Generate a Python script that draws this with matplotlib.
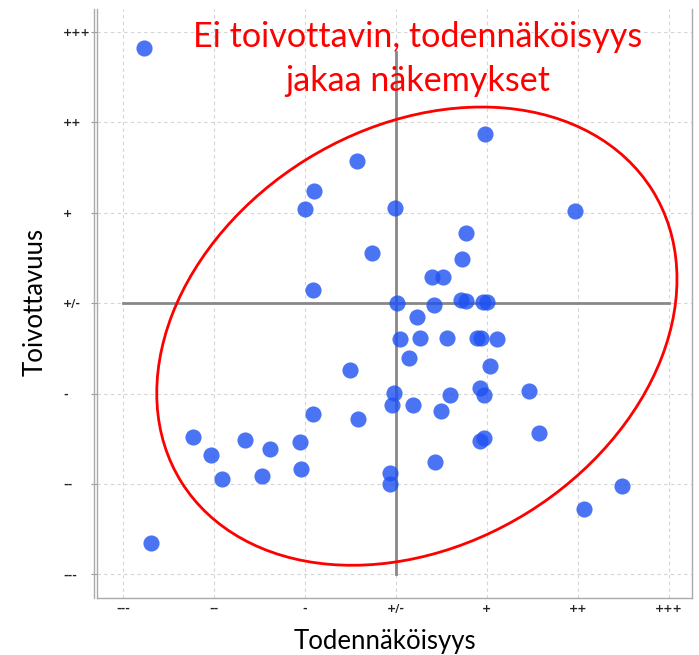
import matplotlib.pyplot as plt
from matplotlib.patches import Ellipse

# values on a -3..+3 scale (--- .. +++)
todennakoisyys = [-2.77, -0.43, 0.98, -0.90, -1.00, -0.01, 1.97, 0.77, -0.26, 0.73,
                  0.40, 0.52, -0.91, 0.01, 0.42, 0.71, 0.77, 0.96, 1.00, 0.23,
                  0.04, 0.26, 0.56, 0.89, 0.93, 1.11, 0.14, 1.03, -0.51, -0.02,
                  -0.04, 0.19, 0.59, 0.49, 0.92, 0.97, 1.46, -0.91, -0.42, -1.05,
                  -1.04, 0.92, 0.97, 1.57, 0.43, -0.07, -0.07, -2.23, -2.03, -1.91,
                  -1.66, -1.38, -1.47, -2.69, 2.48, 2.07]
toivottavuus = [2.82, 1.57, 1.87, 1.24, 1.04, 1.05, 1.02, 0.77, 0.55, 0.49,
                0.29, 0.29, 0.15, 0.00, -0.02, 0.03, 0.02, 0.01, 0.01, -0.15,
                -0.40, -0.39, -0.39, -0.38, -0.38, -0.40, -0.61, -0.69, -0.74, -0.99,
                -1.13, -1.13, -1.02, -1.19, -0.94, -1.02, -0.97, -1.23, -1.28, -1.54,
                -1.83, -1.52, -1.49, -1.44, -1.76, -1.88, -2.00, -1.48, -1.68, -1.94,
                -1.51, -1.61, -1.91, -2.65, -2.02, -2.28]

tick_pos = [-3, -2, -1, 0, 1, 2, 3]
tick_labels = ['---', '--', '-', '+/-', '+', '++', '+++']

fig = plt.figure(figsize=(6.99, 6.55), dpi=100)
ax = fig.add_axes([0.1388, 0.087, 0.851, 0.899])
ax.set_xlim(-3.286, 3.253)
ax.set_ylim(-3.26, 3.25)

ax.set_xticks(tick_pos)
ax.set_xticklabels(tick_labels, fontsize=8, color='#222222', fontweight='bold')
ax.set_yticks(tick_pos)
ax.set_yticklabels(tick_labels, fontsize=8, color='#222222', ha='left',
                   fontweight='bold')
ax.tick_params(axis='x', length=0, pad=4)
ax.tick_params(axis='y', length=4, color='#999999', pad=20.5)

ax.grid(True, color='#d4d4d4', linestyle=(0, (3, 3)), linewidth=0.8)
ax.set_axisbelow(True)

for side in ['left', 'bottom', 'right']:
    ax.spines[side].set_color('#aaaaaa')
    ax.spines[side].set_linewidth(1.0)
ax.spines['top'].set_visible(False)
ax.plot([-0.005, -0.005], [0, 1], transform=ax.transAxes, color='#aaaaaa',
        lw=1.0, clip_on=False)

# centre cross
ax.plot([-3, 3], [0, 0], color='#888888', lw=2, zorder=2)
ax.plot([0, 0], [-3, 2.78], color='#888888', lw=2, zorder=2)

ax.scatter(todennakoisyys, toivottavuus, s=135, color='#1e51f2', alpha=0.8,
           linewidths=0, zorder=3)

ax.add_patch(Ellipse((0.23, -0.365), 6.1, 4.6, angle=32, fill=False,
                     edgecolor='#ff0000', lw=2.0, zorder=4))

fig.text(0.597, 1 - 47 / 655, 'Ei toivottavin, todennäköisyys', ha='center',
         va='baseline', color='#ff0000', fontsize=24.6, family='Lato')
fig.text(0.597, 1 - 91 / 655, 'jakaa näkemykset', ha='center',
         va='baseline', color='#ff0000', fontsize=24.6, family='Lato')

fig.text(385 / 699, 1 - 649 / 655, 'Todennäköisyys', ha='center', va='baseline',
         fontsize=18.5, family='Lato')
fig.text(35 / 699, 1 - 302 / 655, 'Toivottavuus', ha='center', va='center',
         rotation=90, fontsize=18.5, family='Lato')

fig.savefig('out.png', dpi=100)
